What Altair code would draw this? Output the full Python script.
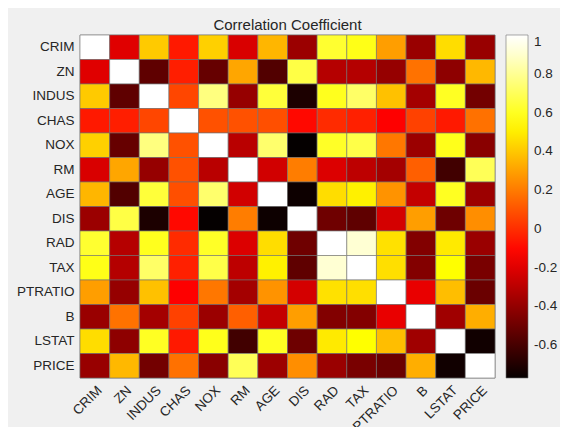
import altair as alt
import pandas as pd

labels = ["CRIM", "ZN", "INDUS", "CHAS", "NOX", "RM", "AGE", "DIS", "RAD", "TAX",
          "PTRATIO", "B", "LSTAT", "PRICE"]

crim    = [1.000, -0.200, 0.407, -0.056, 0.421, -0.219, 0.353, -0.380, 0.626, 0.583, 0.290, -0.385, 0.456, -0.388]
zn      = [-0.200, 1.000, -0.534, -0.043, -0.517, 0.312, -0.570, 0.664, -0.312, -0.315, -0.392, 0.176, -0.413, 0.360]
indus   = [0.407, -0.534, 1.000, 0.063, 0.764, -0.392, 0.645, -0.708, 0.595, 0.721, 0.383, -0.357, 0.604, -0.484]
chas    = [-0.056, -0.043, 0.063, 1.000, 0.091, 0.091, 0.087, -0.099, -0.007, -0.036, -0.122, 0.049, -0.054, 0.175]
nox     = [0.421, -0.517, 0.764, 0.091, 1.000, -0.302, 0.731, -0.769, 0.611, 0.668, 0.189, -0.380, 0.591, -0.427]
rm      = [-0.219, 0.312, -0.392, 0.091, -0.302, 1.000, -0.240, 0.205, -0.210, -0.292, -0.356, 0.128, -0.614, 0.695]
age     = [0.353, -0.570, 0.645, 0.087, 0.731, -0.240, 1.000, -0.748, 0.456, 0.506, 0.262, -0.274, 0.602, -0.377]
dis     = [-0.380, 0.664, -0.708, -0.099, -0.769, 0.205, -0.748, 1.000, -0.495, -0.534, -0.232, 0.292, -0.497, 0.250]
rad     = [0.626, -0.312, 0.595, -0.007, 0.611, -0.210, 0.456, -0.495, 1.000, 0.910, 0.465, -0.444, 0.489, -0.382]
tax     = [0.583, -0.315, 0.721, -0.036, 0.668, -0.292, 0.506, -0.534, 0.910, 1.000, 0.461, -0.442, 0.544, -0.469]
ptratio = [0.290, -0.392, 0.383, -0.122, 0.189, -0.356, 0.262, -0.232, 0.465, 0.461, 1.000, -0.177, 0.374, -0.508]
b       = [-0.385, 0.176, -0.357, 0.049, -0.380, 0.128, -0.274, 0.292, -0.444, -0.442, -0.177, 1.000, -0.366, 0.333]
lstat   = [0.456, -0.413, 0.604, -0.054, 0.591, -0.614, 0.602, -0.497, 0.489, 0.544, 0.374, -0.366, 1.000, -0.738]
price   = [-0.388, 0.360, -0.484, 0.175, -0.427, 0.695, -0.377, 0.250, -0.382, -0.469, -0.508, 0.333, -0.738, 1.000]

rows = [crim, zn, indus, chas, nox, rm, age, dis, rad, tax, ptratio, b, lstat, price]

colorbar_ticks = [-0.6, -0.4, -0.2, 0, 0.2, 0.4, 0.6, 0.8, 1]

records = []
for i, r in enumerate(rows):
    for j, v in enumerate(r):
        records.append({"row": labels[i], "col": labels[j], "value": v})
df = pd.DataFrame(records)

cmin, cmax = -0.769, 1.0
R = cmax - cmin
dom = [cmin, cmin + 0.367 * R, cmin + 0.742 * R, cmin + 0.992 * R, cmax]
rng = ["#050000", "#ff0000", "#ffff00", "#ffffff", "#ffffff"]

FONT = "Liberation Sans"
TXT = "#262626"
FS = 13.5

chart = alt.Chart(df).mark_rect(stroke="#6e6e6e", strokeWidth=0.6).encode(
    x=alt.X("col:N", sort=labels, title=None,
            axis=alt.Axis(labelAngle=-45, ticks=False, domain=False, labelPadding=5,
                          labelFontSize=FS, labelColor=TXT, labelFont=FONT,
                          labelAlign="right", labelBaseline="top")),
    y=alt.Y("row:N", sort=labels, title=None,
            axis=alt.Axis(ticks=False, domain=False, labelPadding=6,
                          labelFontSize=FS, labelColor=TXT, labelFont=FONT)),
    color=alt.Color("value:Q",
                    scale=alt.Scale(domain=dom, range=rng, interpolate="rgb"),
                    legend=alt.Legend(title=None, orient="none", legendX=426, legendY=0,
                                      direction="vertical", gradientLength=343,
                                      gradientThickness=22, gradientStrokeColor="#6e6e6e",
                                      gradientStrokeWidth=0.6,
                                      values=colorbar_ticks,
                                      labelExpr="toString(round(datum.value*10)/10)",
                                      labelFontSize=FS, labelColor=TXT, labelFont=FONT,
                                      labelOffset=6, labelBaseline="middle",
                                      labelOverlap=False)),
).properties(
    width=415, height=343,
    title=alt.TitleParams("Correlation Coefficient", fontSize=15, fontWeight="normal",
                          color=TXT, font=FONT, offset=2),
    autosize=alt.AutoSizeParams(type="none"),
    padding={"left": 72, "top": 27, "right": 65, "bottom": 49},
    background="#f0f0f0",
).configure_view(stroke="#6e6e6e", strokeWidth=0.6)

chart.save("out.html", embed_options={"renderer": "svg", "actions": False})
